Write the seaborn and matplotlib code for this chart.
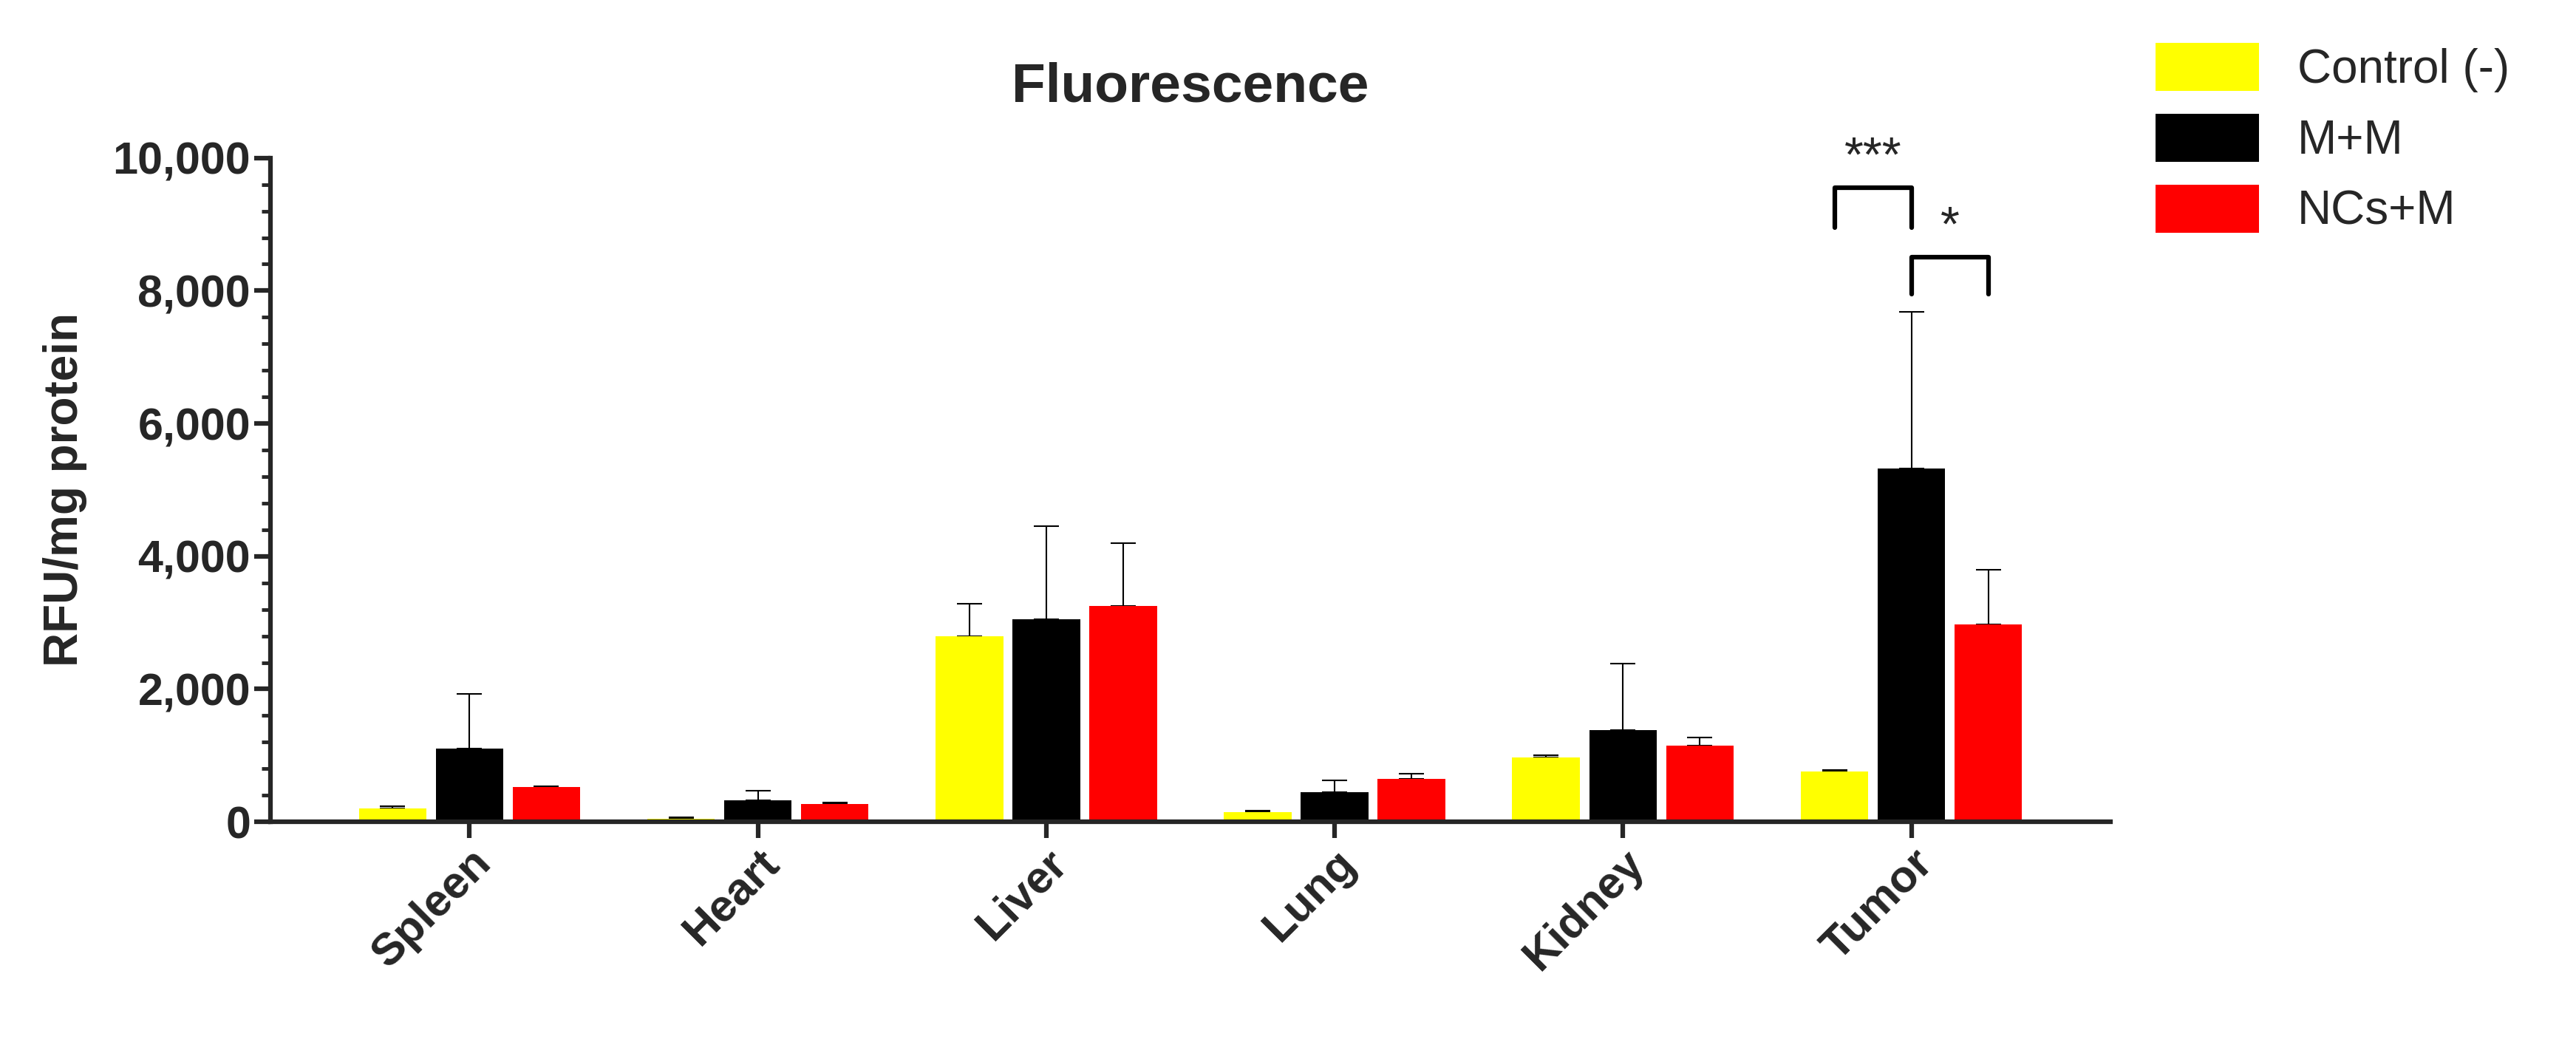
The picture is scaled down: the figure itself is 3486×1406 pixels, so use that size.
import matplotlib
matplotlib.use("Agg")
import matplotlib.pyplot as plt
import seaborn as sns
import pandas as pd
import numpy as np
from matplotlib.ticker import MultipleLocator, FuncFormatter
from matplotlib.patches import Patch

organs = ["Spleen", "Heart", "Liver", "Lung", "Kidney", "Tumor"]
groups = ["Control (-)", "M+M", "NCs+M"]
control = [200, 50, 2800, 150, 970, 760]
control_err = [30, 20, 480, 20, 30, 20]
mm = [1100, 320, 3050, 450, 1380, 5320]
mm_err = [830, 150, 1400, 170, 1000, 2360]
ncs = [520, 270, 3250, 650, 1150, 2970]
ncs_err = [20, 20, 950, 70, 120, 830]
colors = ["#FFFF00", "#000000", "#FF0000"]

rows = []
for g, vals, errs in zip(groups, [control, mm, ncs], [control_err, mm_err, ncs_err]):
    for o, v, e in zip(organs, vals, errs):
        rows.append(dict(organ=o, group=g, value=v, err=e))
df = pd.DataFrame(rows)

sns.set_style("ticks")
plt.rcParams['font.family'] = ['Arial', 'Liberation Sans', 'DejaVu Sans']
fig = plt.figure(figsize=(34.87, 14.06), dpi=100)
ax = fig.add_axes([0.105, 0.209, 0.714, 0.639])
sns.barplot(data=df, x="organ", y="value", hue="group", palette=colors,
            errorbar=None, width=0.8, ax=ax, legend=False, saturation=1)

centers = {}
for gi, g in enumerate(groups):
    cont = ax.containers[gi]
    for o, p in zip(organs, cont.patches):
        w = p.get_width()
        p.set_x(p.get_x() + w * 0.06)
        p.set_width(w * 0.88)
        p.set_edgecolor("none")
        p.set_zorder(2)
        cx = p.get_x() + p.get_width() / 2
        centers[(g, o)] = cx
        r = df[(df.group == g) & (df.organ == o)].iloc[0]
        ax.errorbar(cx, r.value, yerr=[[0], [r.err]], fmt="none", ecolor="black",
                    elinewidth=1.5, capsize=12, capthick=1.5, zorder=1)

ax.set_ylim(0, 10000)
ax.yaxis.set_major_locator(MultipleLocator(2000))
ax.yaxis.set_minor_locator(MultipleLocator(400))
ax.yaxis.set_major_formatter(FuncFormatter(lambda v, p: f"{int(v):,}"))
ax.set_xlabel("")
ax.set_ylabel("RFU/mg protein", fontsize=46, fontweight="bold", labelpad=25)
ax.set_title("Fluorescence", fontsize=54, fontweight="bold", pad=55)
for s in ["top", "right"]:
    ax.spines[s].set_visible(False)
for s in ["left", "bottom"]:
    ax.spines[s].set_linewidth(4.5)
ax.tick_params(axis="y", which="major", length=16, width=4.5, labelsize=44)
ax.tick_params(axis="y", which="minor", length=9, width=3.5)
ax.tick_params(axis="x", length=16, width=4.5, labelsize=44)
for t in ax.get_yticklabels():
    t.set_fontweight("bold")
plt.setp(ax.get_xticklabels(), rotation=45, ha="right", rotation_mode="anchor", fontweight="bold")

# significance brackets
x1, x2, x3 = centers[("Control (-)", "Tumor")], centers[("M+M", "Tumor")], centers[("NCs+M", "Tumor")]
ax.plot([x1, x1, x2, x2], [8950, 9550, 9550, 8950], color="black", lw=4.5, clip_on=False)
ax.text((x1 + x2) / 2, 9650, "***", ha="center", va="bottom", fontsize=48)
ax.plot([x2, x2, x3, x3], [7950, 8500, 8500, 7950], color="black", lw=4.5, clip_on=False)
ax.text((x2 + x3) / 2, 8600, "*", ha="center", va="bottom", fontsize=48)

handles = [Patch(facecolor=c, edgecolor="none") for c in colors]
fig.legend(handles, groups, loc="upper left", bbox_to_anchor=(0.82, 1.0), frameon=False,
           fontsize=46, handlelength=2.2, handleheight=1.2, labelspacing=0.45)

fig.savefig("out.png", dpi=100)
